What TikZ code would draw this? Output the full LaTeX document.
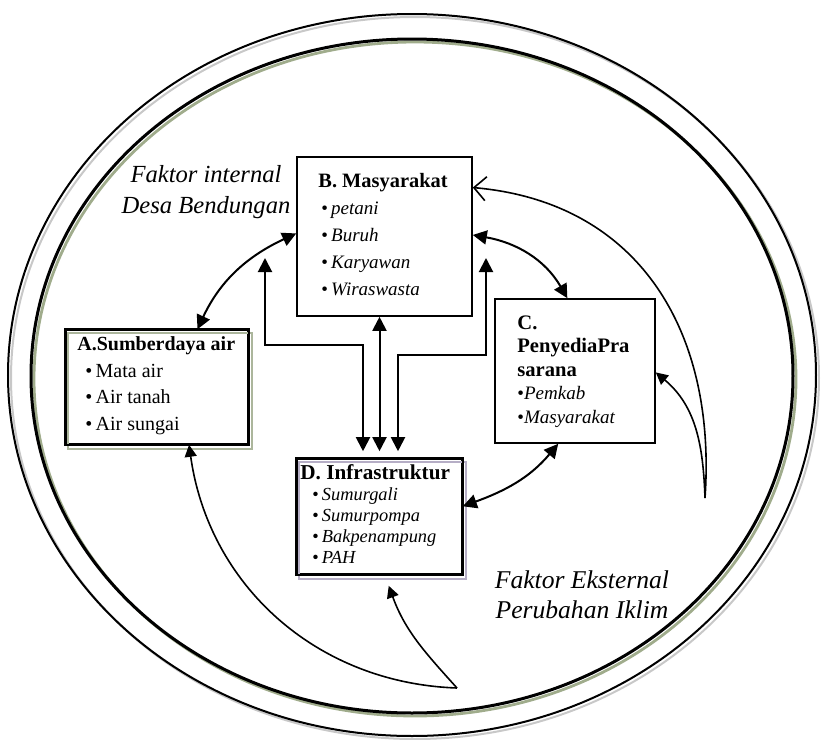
\documentclass[tikz,border=0pt]{standalone}
\usepackage{fontspec}
\setmainfont{Liberation Serif}
\usetikzlibrary{arrows.meta,calc,positioning}
\definecolor{ringgray}{RGB}{200,200,200}
\definecolor{ringgreen}{RGB}{160,172,140}
\definecolor{shadegreen}{RGB}{172,182,156}
\definecolor{shadepurple}{RGB}{182,174,198}

\begin{document}
\begin{tikzpicture}[x=0.5pt,y=-0.5pt,>={Triangle[length=7pt,width=7pt]},
  box/.style={draw,line width=0.8pt,inner sep=0pt},
  link/.style={<->,line width=1pt},
  ext/.style={->,line width=0.8pt,>={Triangle[length=6pt,width=6pt]}},
  txt/.style={anchor=north west,inner sep=0pt,align=left}]
  \useasboundingbox (0,0) rectangle (821,740);
  % the two rings, each with its shade
  \draw[line width=1pt,ringgray] (415,378) ellipse [x radius=404,y radius=361];
  \draw[line width=1pt] (412,375) ellipse [x radius=404,y radius=361];
  \draw[line width=1.4pt,ringgreen] (415,379) ellipse [x radius=381,y radius=337];
  \draw[line width=1.5pt] (412,376) ellipse [x radius=381,y radius=337];

  % boxes
  \node[box,minimum width=87.5pt,minimum height=79.5pt] (B) at (384.5,236.5) {};
  \node[box,minimum width=91pt,minimum height=57pt] (A) at (157,387) {};
  \node[box,minimum width=80pt,minimum height=72pt] (C) at (575,371) {};
  \node[box,minimum width=82.5pt,minimum height=57.5pt] (D) at (379.5,516.5) {};
  \draw[line width=1pt,shadegreen] ([shift={(3,4)}]A.north west) rectangle ([shift={(3,4)}]A.south east);
  \draw[line width=1pt,shadepurple] ([shift={(3,4)}]D.north west) rectangle ([shift={(3,4)}]D.south east);
  \draw[line width=0.8pt] (A.north west) rectangle (A.south east);
  \draw[line width=0.8pt] (D.north west) rectangle (D.south east);

  \node[txt,font={\fontsize{9.5}{13.5}\selectfont}] (Btxt) at (318,173)
    {{\fontsize{10.2}{13.5}\selectfont\textbf{B. Masyarakat}}\\
     \hspace{1.5pt}\textbullet\,\textit{petani}\\
     \hspace{1.5pt}\textbullet\,\textit{Buruh}\\
     \hspace{1.5pt}\textbullet\,\textit{Karyawan}\\
     \hspace{1.5pt}\textbullet\,\textit{Wiraswasta}};
  \node[txt,font={\fontsize{10}{13.4}\selectfont}] (Atxt) at (77,336)
    {\textbf{A.Sumberdaya air}\\
     \hspace{4pt}\textbullet\,Mata air\\
     \hspace{4pt}\textbullet\,Air tanah\\
     \hspace{4pt}\textbullet\,Air sungai};
  \node[txt,font={\fontsize{10.3}{11.75}\selectfont}] (Ctxt) at (517,315)
    {\textbf{C.}\\
     \textbf{PenyediaPra}\\
     \textbf{sarana}\\
     {\fontsize{9.5}{11.75}\selectfont\textbullet\textit{Pemkab}}\\
     {\fontsize{9.5}{11.75}\selectfont\textbullet\textit{Masyarakat}}};
  \node[txt,font={\fontsize{10.6}{10.5}\selectfont}] (Dtxt) at (300,464)
    {\textbf{D. Infrastruktur}\\
     \hspace{6pt}{\fontsize{9.2}{10.5}\selectfont\textbullet\,\textit{Sumurgali}}\\
     \hspace{6pt}{\fontsize{9.2}{10.5}\selectfont\textbullet\,\textit{Sumurpompa}}\\
     \hspace{6pt}{\fontsize{9.2}{10.5}\selectfont\textbullet\,\textit{Bakpenampung}}\\
     \hspace{6pt}{\fontsize{9.2}{10.5}\selectfont\textbullet\,\textit{PAH}}};

  \node[anchor=north,inner sep=0pt,align=center,font={\fontsize{12.3}{15.5}\selectfont\itshape}]
    (fint) at (206,165) {Faktor internal\\Desa Bendungan};
  \node[anchor=north,inner sep=0pt,align=center,font={\fontsize{12.8}{15}\selectfont\itshape}]
    (fext) at (582,570) {Faktor Eksternal\\Perubahan Iklim};

  % links inside the village
  \draw[link] (A.55) to[out=65,in=205] (B.178);
  \draw[link] (B.1) to[out=-10,in=120] (C.96);
  \draw[link] (D.7) to[out=20,in=230] (C.257);
  \draw[link,shorten >=3.5pt] (B.south -| D.north) -- (D.north);
  \coordinate (lt) at (265,258);
  \coordinate (rt) at (486,258);
  \draw[link,shorten >=3.5pt] (lt) -- ++(0,87) -| ([xshift=-8.25pt]D.north);
  \draw[link,shorten >=3.5pt] (rt) -- ++(0,97) -| ([xshift=9.25pt]D.north);

  % external arrows
  \coordinate (er) at (705,498);
  \coordinate (eb) at (457,688);
  \draw[line width=0.8pt,-{Straight Barb[length=6pt,width=12pt]}] (er) to[out=86,in=-5,looseness=1.1] (B.29);
  \draw[ext] (er) to[out=92,in=-40] (C.-1);
  \draw[ext] (eb) to[out=178,in=-82] (A.-61);
  \draw[ext] (eb) to[out=132,in=-70] ([yshift=-5.5pt]D.-81);
\end{tikzpicture}
\end{document}
